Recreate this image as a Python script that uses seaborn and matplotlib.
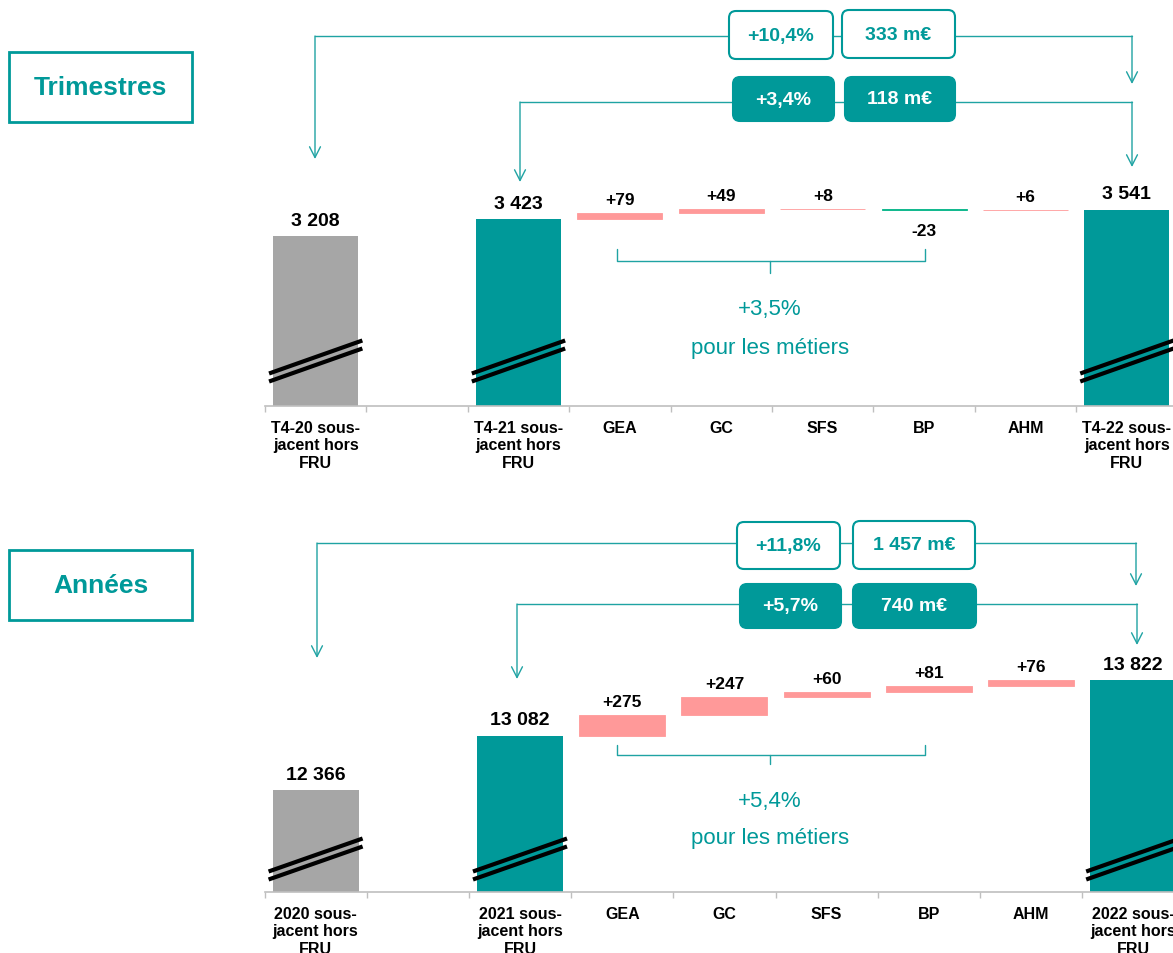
import numpy as np
import pandas as pd
import matplotlib
matplotlib.use("Agg")
import matplotlib.pyplot as plt
import seaborn as sns
from matplotlib.patches import FancyBboxPatch, Rectangle

sns.set_style("white")
plt.rcParams['font.family'] = ['Liberation Sans', 'DejaVu Sans']

TEAL = "#009999"
LINE = "#1FA3A3"
GRAY = "#A6A6A6"
PINK = "#FF9999"
GREEN = "#00B386"

# ---------------- data ----------------
q_labels = ["T4-20 sous-\njacent hors\nFRU", "", "T4-21 sous-\njacent hors\nFRU",
            "GEA", "GC", "SFS", "BP", "AHM", "T4-22 sous-\njacent hors\nFRU"]
a_labels = ["2020 sous-\njacent hors\nFRU", "", "2021 sous-\njacent hors\nFRU",
            "GEA", "GC", "SFS", "BP", "AHM", "2022 sous-\njacent hors\nFRU"]
q_start, q_prev, q_end = 3208, 3423, 3541
q_deltas = [79, 49, 8, -23, 6]
a_start, a_prev, a_end = 12366, 13082, 13822
a_deltas = [275, 247, 60, 81, 76]
q_boxes = ["+10,4%", "333 m€", "+3,4%", "118 m€"]
a_boxes = ["+11,8%", "1 457 m€", "+5,7%", "740 m€"]
q_metier = "+3,5%"
a_metier = "+5,4%"
metier_text = "pour les métiers"
panel_titles = ["Trimestres", "Années"]


def fmt(v):
    return f"{v:,}".replace(",", " ")


def build(start, prev, deltas, end):
    rows = [dict(slot=0, base=0, height=start, color=GRAY, text=fmt(start), kind="total"),
            dict(slot=2, base=0, height=prev, color=TEAL, text=fmt(prev), kind="total")]
    cum = prev
    for i, d in enumerate(deltas):
        rows.append(dict(slot=3 + i, base=cum, height=d, color=PINK if d > 0 else GREEN,
                         text=f"{d:+d}", kind="delta"))
        cum += d
    rows.append(dict(slot=8, base=0, height=end, color=TEAL, text=fmt(end), kind="total"))
    return pd.DataFrame(rows)


W, H = 1173, 954
fig = plt.figure(figsize=(W / 100, H / 100), dpi=100)
fig.patch.set_facecolor("white")

keys = [f"k{i}" for i in range(9)]


def draw_panel(rect_px, ylim, df, labels, break_center):
    left, top, width, height = rect_px
    ax = fig.add_axes([left / W, 1 - (top + height) / H, width / W, height / H])
    for _, r in df.iterrows():
        lw = 0 if r.kind == "total" else 0.6
        sns.barplot(x=[keys[r.slot]], y=[r.height], order=keys, color=r.color,
                    saturation=1, width=0.84, bottom=r.base, linewidth=lw,
                    edgecolor=r.color, ax=ax)
        if r.kind == "total":
            ax.annotate(r.text, (r.slot, r.base + r.height), xytext=(0, 11.5),
                        textcoords="offset points", ha="center", va="center",
                        fontsize=14, fontweight="bold", color="black")
        else:
            top_v = r.base + max(r.height, 0)
            bot_v = r.base + min(r.height, 0)
            if r.height >= 0:
                ax.annotate(r.text, (r.slot, top_v), xytext=(0, 9.5),
                            textcoords="offset points", ha="center", va="center",
                            fontsize=12.5, fontweight="bold", color="black")
            else:
                ax.annotate(r.text, (r.slot, bot_v), xytext=(0, -14.5),
                            textcoords="offset points", ha="center", va="center",
                            fontsize=12.5, fontweight="bold", color="black")
    ax.set_xlim(-0.5, 8.5)
    ax.set_ylim(*ylim)
    ax.set_facecolor("none")
    for s in ["top", "left", "right"]:
        ax.spines[s].set_visible(False)
    ax.spines["bottom"].set_color("#BFBFBF")
    ax.spines["bottom"].set_linewidth(1.2)
    ax.set_yticks([])
    ax.set_ylabel("")
    ax.set_xlabel("")
    ax.set_xticks(range(9))
    ax.set_xticklabels(labels, fontsize=11.5, fontweight="bold", linespacing=1.2,
                       color="black")
    ax.set_xticks(np.arange(-0.5, 9.0, 1.0), minor=True)
    ax.tick_params(axis="x", which="major", length=0, pad=10, bottom=False,
                   labelcolor="black")
    ax.tick_params(axis="x", which="minor", length=4, width=1, color="#BFBFBF",
                   direction="out", bottom=True)
    # axis-break marks on the total bars
    trans = ax.get_xaxis_transform()
    for _, r in df[df.kind == "total"].iterrows():
        for off in (-4, 4):
            yc = (break_center + off) / height
            dy = 16.5 / height
            ax.plot([r.slot - 0.46, r.slot + 0.46], [yc - dy, yc + dy], transform=trans,
                    color="black", lw=3.0, solid_capstyle="butt", clip_on=False, zorder=4)
    return ax


q_df = build(q_start, q_prev, q_deltas, q_end)
a_df = build(a_start, a_prev, a_deltas, a_end)

# top panel: baseline at pixel 407, scale 0.0787 px / unit
draw_panel((265, 0, 9 * 101.4, 407), (1050, 1050 + 407 / 0.0787), q_df, q_labels, 45)
# bottom panel: baseline at pixel 893, scale 0.0755 px / unit
draw_panel((264.5, 470, 9 * 102.2, 423), (11015, 11015 + 423 / 0.0755), a_df, a_labels, 33)

# ---------------- overlay (annotations) ----------------
ov = fig.add_axes([0, 0, 1, 1], zorder=10)
ov.set_xlim(0, W)
ov.set_ylim(H, 0)
ov.axis("off")
ov.patch.set_alpha(0)


def arrow(x, y0, y1):
    ov.annotate("", xy=(x, y1), xytext=(x, y0),
                arrowprops=dict(arrowstyle="->,head_length=0.55,head_width=0.28",
                                color=LINE, lw=1.0, shrinkA=0, shrinkB=0, mutation_scale=14))


def box(x, y, w, h, text, filled):
    fc = TEAL if filled else "white"
    tc = "white" if filled else TEAL
    ov.add_patch(FancyBboxPatch((x, y), w, h, boxstyle="round,pad=0,rounding_size=7",
                                fc=fc, ec=TEAL, lw=1.5, zorder=3))
    ov.text(x + w / 2, y + h / 2, text, ha="center", va="center", fontsize=14,
            fontweight="bold", color=tc, zorder=4)


def panel_overlay(cfg, boxes, pct):
    yo = cfg["outer_y"]
    ov.plot([cfg["oxl"], cfg["oxr"]], [yo, yo], color=LINE, lw=1.0, zorder=1)
    arrow(cfg["oxl"], yo, cfg["otl"])
    arrow(cfg["oxr"], yo, cfg["otr"])
    yi = cfg["inner_y"]
    ov.plot([cfg["ixl"], cfg["ixr"]], [yi, yi], color=LINE, lw=1.0, zorder=1)
    arrow(cfg["ixl"], yi, cfg["itl"])
    arrow(cfg["ixr"], yi, cfg["itr"])
    for (x, y, w, h), t, f in zip(cfg["boxes"], boxes, [False, False, True, True]):
        box(x, y, w, h, t, f)
    x0, x1, yt, yb, xm, ym = cfg["bracket"]
    ov.plot([x0, x0, x1, x1], [yt, yb, yb, yt], color=LINE, lw=1.0)
    ov.plot([xm, xm], [yb, ym], color=LINE, lw=1.0)
    ov.text(xm, cfg["pct_y"], pct, ha="center", va="center", fontsize=16, color=TEAL)
    ov.text(xm, cfg["pour_y"], metier_text, ha="center", va="center", fontsize=16, color=TEAL)
    tx, ty, tw, th = cfg["title_box"]
    ov.add_patch(Rectangle((tx, ty), tw, th, fc="white", ec=TEAL, lw=2))
    ov.text(tx + tw / 2, ty + th / 2, cfg["title"], ha="center", va="center",
            fontsize=19, fontweight="bold", color=TEAL)


q_cfg = dict(outer_y=37, oxl=315, oxr=1132, otl=160, otr=85,
             inner_y=103, ixl=520, ixr=1132, itl=183, itr=168,
             boxes=[(729, 12, 104, 48), (842, 11, 113, 48), (733, 78, 101, 44), (845, 78, 110, 44)],
             bracket=(617, 925, 250, 262, 770, 274), pct_y=310, pour_y=349,
             title_box=(9, 53, 183, 70), title=panel_titles[0])
a_cfg = dict(outer_y=544, oxl=317, oxr=1136, otl=659, otr=587,
             inner_y=605, ixl=517, ixr=1137, itl=680, itr=646,
             boxes=[(737, 523, 103, 47), (853, 522, 122, 48), (740, 585, 101, 44), (853, 585, 123, 44)],
             bracket=(617, 925, 746, 756, 770, 765), pct_y=802, pour_y=839,
             title_box=(9, 551, 183, 70), title=panel_titles[1])

panel_overlay(q_cfg, q_boxes, q_metier)
panel_overlay(a_cfg, a_boxes, a_metier)

fig.savefig("out.png", dpi=100, facecolor="white")
